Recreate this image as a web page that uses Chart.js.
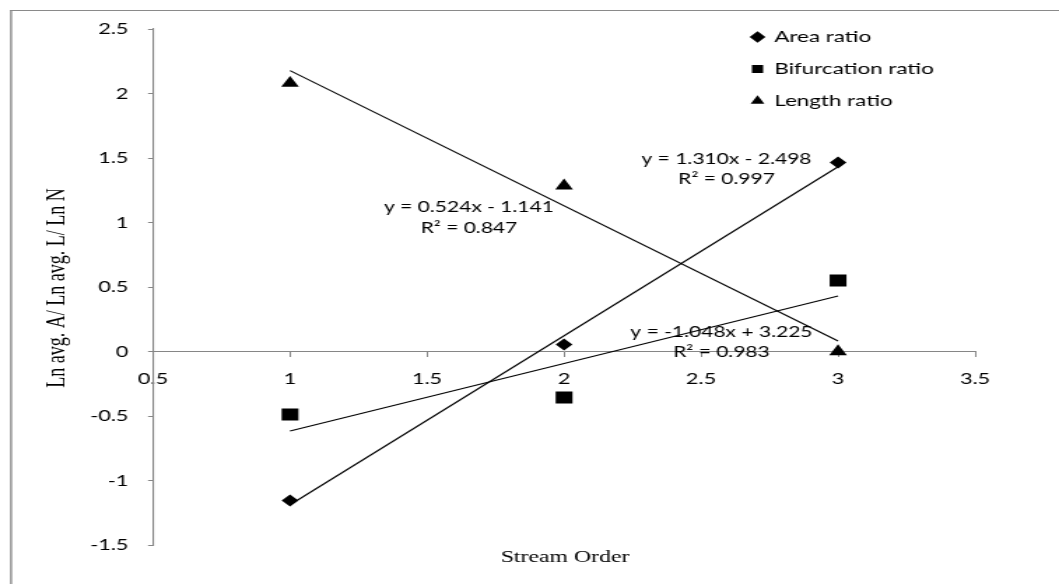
<!DOCTYPE html>
<html><head><meta charset="utf-8">
<script src="https://cdn.jsdelivr.net/npm/chart.js@4.4.1/dist/chart.umd.min.js"></script>
<style>
html,body{margin:0;padding:0;background:#fff;overflow:hidden;}
#wrap{width:757px;height:584px;transform:scaleX(1.398943);transform-origin:0 0;}
canvas{display:block;}
</style></head><body>
<div id="wrap"><canvas id="c" width="757" height="584"></canvas></div>
<script>
// ---- data ----
const streamOrder = [1, 2, 3];
const areaRatio = [-1.155, 0.055, 1.465];
const bifurcationRatio = [-0.488, -0.356, 0.55];
const lengthRatio = [2.08, 1.285, 0.0];
const trendOrder = [1, 3];
const areaTrend = [-1.188, 1.432];
const bifurcationTrend = [-0.617, 0.431];
const lengthTrend = [2.177, 0.081];
const seriesNames = ['Area ratio', 'Bifurcation ratio', 'Length ratio'];
const areaEquation = ['y = 1.310x - 2.498', 'R² = 0.997'];
const bifurcationEquation = ['y = 0.524x - 1.141', 'R² = 0.847'];
const lengthEquation = ['y = -1.048x + 3.225', 'R² = 0.983'];
const xTickLabels = ['0.5', '1', '1.5', '2', '2.5', '3', '3.5'];
const yTickLabels = ['-1.5', '-1', '-0.5', '0', '0.5', '1', '1.5', '2', '2.5'];
const xTitle = 'Stream Order';
const yTitle = 'Ln avg. A/ Ln avg. L/ Ln N';

// ---- layout / style ----
const SANS = 'Lato';
const SERIF = '"Liberation Serif", "Times New Roman", serif';
const AXIS = '#868686';
const pts = (xs, ys) => xs.map((x, i) => ({x: x, y: ys[i]}));
const eqPlacement = [
  {lines: areaEquation, x: 519.3, y: [159, 179]},
  {lines: bifurcationEquation, x: 335.2, y: [207, 228]},
  {lines: lengthEquation, x: 515.7, y: [332.5, 352.5]}
];

const decor = {
  id: 'decor',
  beforeDraw(chart) {
    const ctx = chart.ctx;
    ctx.save();
    ctx.fillStyle = '#fff';
    ctx.fillRect(0, 0, chart.width, chart.height);
    ctx.strokeStyle = '#8a8a8a';
    ctx.lineWidth = 1.4;
    ctx.beginPath(); ctx.moveTo(7.9, 600); ctx.lineTo(7.9, 10); ctx.stroke();
    ctx.lineWidth = 1.2;
    ctx.beginPath(); ctx.moveTo(7.2, 10.5); ctx.lineTo(800, 10.5); ctx.stroke();
    ctx.restore();
  },
  afterLayout(chart) {
    const lg = chart.legend;
    if (!lg) return;
    const w = lg.width, h = lg.height;
    lg.left = 521.5; lg.top = 13; lg.right = lg.left + w; lg.bottom = lg.top + h;
  },
  afterDraw(chart) {
    const ctx = chart.ctx;
    ctx.save();
    ctx.fillStyle = '#000';
    ctx.textAlign = 'center';
    ctx.textBaseline = 'middle';
    ctx.font = '15px ' + SANS;
    eqPlacement.forEach(e => {
      e.lines.forEach((t, i) => ctx.fillText(t, e.x, e.y[i]));
    });
    ctx.font = '17px ' + SERIF;
    ctx.fillText(xTitle, 403.9, 558);
    ctx.translate(41.5, 288);
    ctx.rotate(-Math.PI / 2);
    ctx.font = '18px ' + SERIF;
    ctx.fillText(yTitle, 0, 0);
    ctx.restore();
  }
};

const markerDs = (label, data, style, radius) => ({
  type: 'scatter', label: label, data: pts(streamOrder, data),
  pointStyle: style, pointRadius: radius, pointHoverRadius: radius,
  backgroundColor: '#000', borderColor: '#000', borderWidth: 0, showLine: false
});
const trendDs = (data) => ({
  type: 'scatter', label: '', data: pts(trendOrder, data), showLine: true,
  pointRadius: 0, borderColor: '#000', borderWidth: 1.1, backgroundColor: '#000'
});

new Chart(document.getElementById('c'), {
  type: 'scatter',
  data: {
    datasets: [
      markerDs(seriesNames[0], areaRatio, 'rectRot', 6),
      markerDs(seriesNames[1], bifurcationRatio, 'rect', 8.5),
      markerDs(seriesNames[2], lengthRatio, 'triangle', 7.3),
      trendDs(areaTrend),
      trendDs(bifurcationTrend),
      trendDs(lengthTrend)
    ]
  },
  options: {
    responsive: false,
    animation: false,
    devicePixelRatio: 1,
    layout: {padding: {top: 29, bottom: 39, right: 60, left: 0}},
    plugins: {
      tooltip: {enabled: false},
      legend: {
        position: 'chartArea',
        align: 'start',
        labels: {
          usePointStyle: true, boxWidth: 8, boxHeight: 8, padding: 16, color: '#000',
          font: {family: SANS, size: 16, lineHeight: 1.2},
          filter: item => item.datasetIndex < 3
        }
      }
    },
    scales: {
      x: {
        type: 'linear', min: 0.5, max: 3.5, position: {y: 0},
        ticks: {stepSize: 0.5, autoSkip: false, maxRotation: 0, color: '#000', padding: 13,
          font: {family: SANS, size: 15.5}, callback: (v, i) => xTickLabels[i]},
        grid: {drawOnChartArea: false, drawTicks: true, tickLength: 5, color: AXIS},
        border: {display: true, color: AXIS, width: 1}
      },
      y: {
        type: 'linear', min: -1.5, max: 2.5,
        ticks: {stepSize: 0.5, autoSkip: false, color: '#000', padding: 14,
          font: {family: SANS, size: 15.5}, callback: (v, i) => yTickLabels[i]},
        grid: {drawOnChartArea: false, drawTicks: true, tickLength: 3.6, color: AXIS},
        border: {display: true, color: AXIS, width: 1.1},
        afterFit: s => { s.width = 109.4; }
      }
    }
  },
  plugins: [decor]
});
</script>
</body></html>
